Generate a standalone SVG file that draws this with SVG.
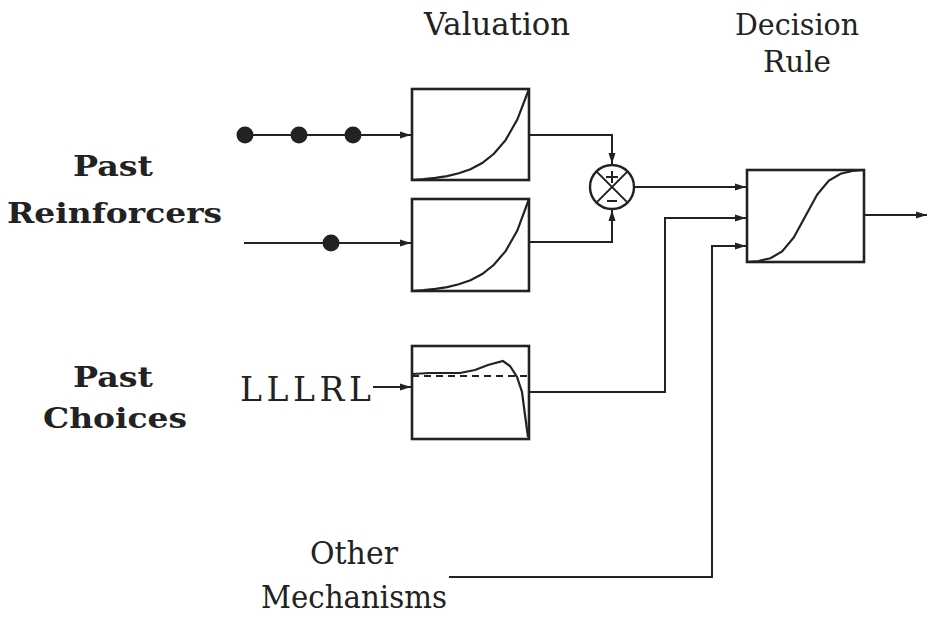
<svg xmlns="http://www.w3.org/2000/svg" width="928" height="618" viewBox="0 0 928 618">
<defs>
<marker id="arr" markerUnits="userSpaceOnUse" markerWidth="12" markerHeight="8" refX="11" refY="4" orient="auto">
<path d="M0,0.5 L11,4 L0,7.5 Z" fill="#222"/>
</marker>
<style>
.box{fill:#fff;stroke:#222;stroke-width:2.6}
.crv{fill:none;stroke:#222;stroke-width:2.2}
.ln{fill:none;stroke:#222;stroke-width:2}
.ar{fill:none;stroke:#222;stroke-width:2;marker-end:url(#arr)}
.dot{fill:#222}
</style>
</defs>
<rect width="928" height="618" fill="#fff"/>

<g id="labels" fill="#222" font-family="'DejaVu Serif', 'Liberation Serif', serif">
<text x="497" y="35" font-size="31" text-anchor="middle" textLength="146" lengthAdjust="spacingAndGlyphs">Valuation</text>
<text x="797" y="35" font-size="30" text-anchor="middle" textLength="124" lengthAdjust="spacingAndGlyphs">Decision</text>
<text x="797" y="72" font-size="30" text-anchor="middle" textLength="68" lengthAdjust="spacingAndGlyphs">Rule</text>
<text x="73" y="176" font-size="28" font-weight="bold" textLength="80" lengthAdjust="spacingAndGlyphs">Past</text>
<text x="7" y="223" font-size="28" font-weight="bold" textLength="215" lengthAdjust="spacingAndGlyphs">Reinforcers</text>
<text x="73" y="387" font-size="28" font-weight="bold" textLength="80" lengthAdjust="spacingAndGlyphs">Past</text>
<text x="43" y="428" font-size="28" font-weight="bold" textLength="144" lengthAdjust="spacingAndGlyphs">Choices</text>
<text x="240" y="401" font-size="33" textLength="131" lengthAdjust="spacing">LLLRL</text>
<text x="354" y="564" font-size="31" text-anchor="middle" textLength="88" lengthAdjust="spacingAndGlyphs">Other</text>
<text x="354" y="608" font-size="31" text-anchor="middle" textLength="186" lengthAdjust="spacingAndGlyphs">Mechanisms</text>
</g>

<g id="connectors">
<path class="ar" d="M245,135 H411"/>
<path class="ar" d="M244,243 H411"/>
<path class="ar" d="M529,135 H612 V164"/>
<path class="ar" d="M529,242 H612 V210"/>
<path class="ar" d="M634,187 H746"/>
<path class="ar" d="M373,387 H411"/>
<path class="ar" d="M529,392 H665 V218 H746"/>
<path class="ar" d="M449,577 H712 V246 H746"/>
<path class="ar" d="M864,215 H927"/>
</g>

<g id="reinforcer-dots">
<circle class="dot" cx="245" cy="135" r="8.5"/>
<circle class="dot" cx="299" cy="135" r="8.5"/>
<circle class="dot" cx="353" cy="135" r="8.5"/>
<circle class="dot" cx="331" cy="243" r="8.5"/>
</g>

<g id="valuation1">
<rect class="box" x="412" y="89" width="117" height="91"/>
<path class="crv" d="M412,180 L423.7,179.2 L435.4,177.9 L447.1,176.1 L458.8,173.3 L470.5,169.2 L482.2,163 L493.9,153.8 L505.6,140.1 L517.3,119.6 L529,89"/>
</g>

<g id="valuation2">
<rect class="box" x="412" y="199" width="117" height="92"/>
<path class="crv" d="M412,291 L423.7,290.2 L435.4,288.9 L447.1,287.1 L458.8,284.3 L470.5,280.2 L482.2,274 L493.9,264.8 L505.6,251.1 L517.3,230.6 L529,199"/>
</g>

<g id="comparator">
<circle cx="612" cy="187" r="22" fill="#fff" stroke="#222" stroke-width="2.4"/>
<path class="ln" d="M596.4,171.4 L627.6,202.6 M627.6,171.4 L596.4,202.6"/>
<path class="ln" d="M606,177 H618 M612,171 V183"/>
<path class="ln" d="M607,201 H617"/>
</g>

<g id="choice-kernel">
<rect class="box" x="412" y="346" width="117" height="93"/>
<path class="ln" stroke-dasharray="7,5" stroke-width="1.4" d="M412,376 H529"/>
<path class="crv" d="M412,374 L430,373 L460,373 L475,370 L488,365 L503,361 L510,366 L517,377 L522,392 L525,415 L528,437"/>
</g>

<g id="decision-rule">
<rect class="box" x="747" y="170" width="117" height="92"/>
<path class="crv" d="M747,262 L758.7,261 L770.4,258.2 L782.1,251.5 L793.8,237.5 L805.5,216 L817.2,194.5 L828.9,180.5 L840.6,173.8 L852.3,171 L864,170"/>
</g>
</svg>
